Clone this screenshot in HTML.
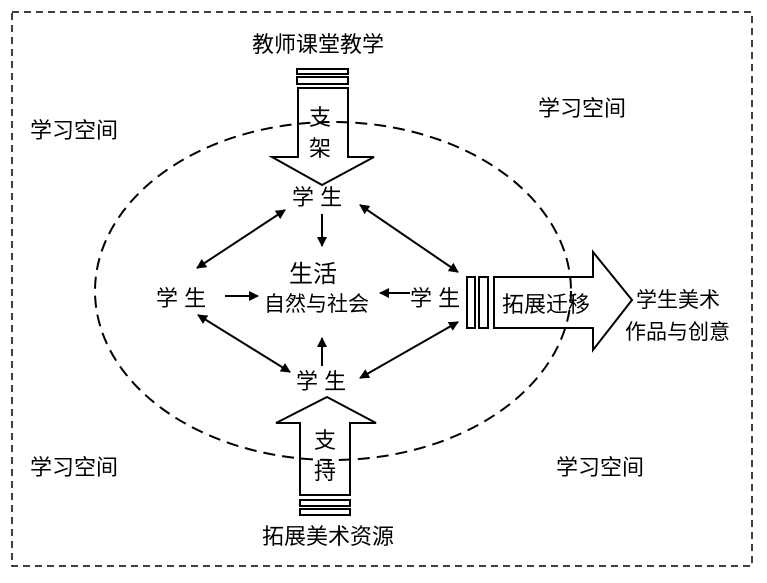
<!DOCTYPE html>
<html><head><meta charset="utf-8"><style>
body{margin:0;background:#fff;}
svg text{font-family:"Liberation Sans","Noto Sans CJK SC",sans-serif;fill:#000;}
</style></head><body>
<svg width="767" height="578" viewBox="0 0 767 578" xmlns="http://www.w3.org/2000/svg">
<defs><marker id="a" markerWidth="10" markerHeight="10" refX="9" refY="5" orient="auto-start-reverse" markerUnits="userSpaceOnUse" viewBox="0 0 10 10"><path d="M0,0 L10,5 L0,10 z" fill="#000"/></marker></defs>
<rect x="12" y="12" width="740" height="554" fill="none" stroke="#000" stroke-width="1.5" stroke-dasharray="7,5"/>
<ellipse cx="333" cy="291" rx="238" ry="169" fill="none" stroke="#000" stroke-width="2" stroke-dasharray="12,7"/>
<g font-size="22">
<text x="30" y="138">学习空间</text>
<text x="538" y="116">学习空间</text>
<text x="30" y="475">学习空间</text>
<text x="556" y="475">学习空间</text>
</g>
<text x="252" y="52" font-size="22">教师课堂教学</text>
<g fill="none" stroke="#000" stroke-width="2">
<rect x="297" y="69" width="51" height="5"/><rect x="297" y="77" width="51" height="7"/>
<path d="M298,88 H348 V157 H374 L322,185 L272,157 H298 Z"/>
<path d="M327,397 L376,423 H350 V495 H300 V423 H276 Z"/>
<rect x="300" y="500" width="50" height="6"/><rect x="300" y="509" width="50" height="6"/>
<rect x="467" y="277" width="8" height="51"/><rect x="479" y="277" width="9" height="51"/>
<path d="M494,277 H593 V252 L632,300 L593,350 V328 H494 Z"/>
</g>
<text x="309" y="125" font-size="22">支</text>
<text x="309" y="156" font-size="22">架</text>
<text x="314" y="448" font-size="22">支</text>
<text x="314" y="479" font-size="22">持</text>
<text x="262" y="544" font-size="22">拓展美术资源</text>
<text x="502" y="312" font-size="22">拓展迁移</text>
<text x="636" y="307" font-size="21">学生美术</text>
<text x="625" y="339" font-size="21">作品与创意</text>
<g font-size="22">
<text x="292" y="205">学 生</text>
<text x="156" y="306">学 生</text>
<text x="410" y="306">学 生</text>
<text x="296" y="389">学 生</text>
</g>
<text x="289" y="282" font-size="24">生活</text>
<text x="264" y="311" font-size="21">自然与社会</text>
<g stroke="#000" stroke-width="2" marker-end="url(#a)">
<line x1="285" y1="210" x2="197" y2="268" marker-start="url(#a)"/>
<line x1="360" y1="205" x2="458" y2="272" marker-start="url(#a)"/>
<line x1="290" y1="372" x2="198" y2="315" marker-start="url(#a)"/>
<line x1="360" y1="378" x2="458" y2="322" marker-start="url(#a)"/>
<line x1="322" y1="214" x2="322" y2="246"/>
<line x1="225" y1="296" x2="258" y2="296"/>
<line x1="410" y1="293" x2="380" y2="293"/>
<line x1="322" y1="366" x2="322" y2="338"/>
</g>
</svg>
</body></html>
